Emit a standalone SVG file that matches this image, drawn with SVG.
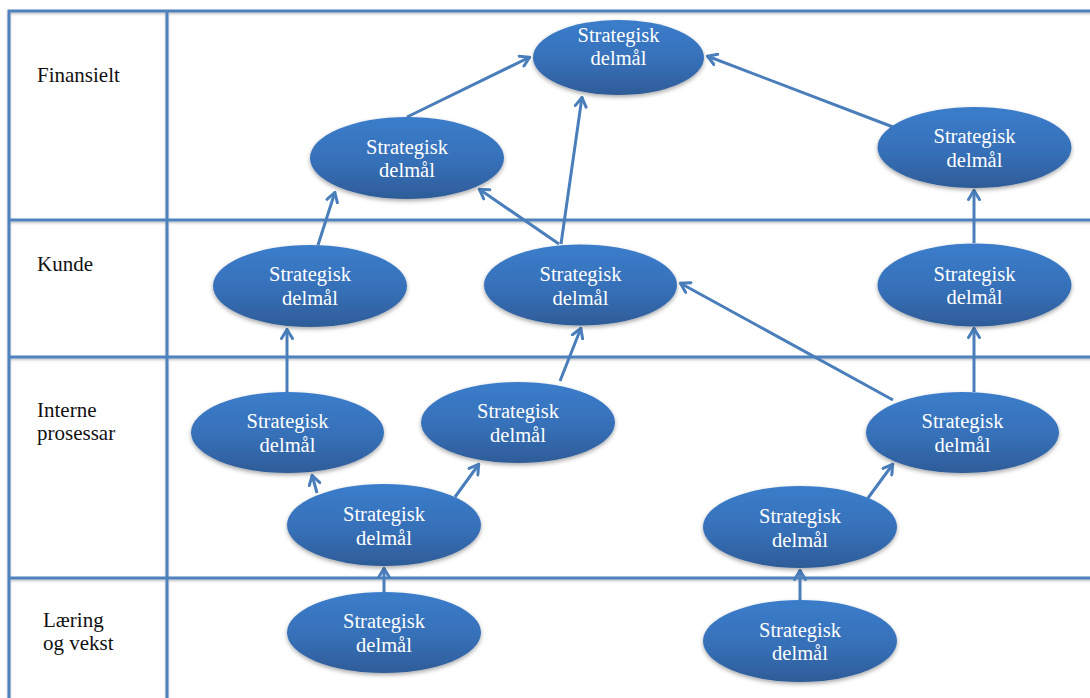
<svg xmlns="http://www.w3.org/2000/svg" width="1090" height="698" viewBox="0 0 1090 698">
<style>
.grid{stroke:#4f81bd;stroke-width:3;fill:none}
.lbl{font-family:'Liberation Serif','Times New Roman',Times,'DejaVu Serif',serif;font-size:21px;fill:#111}
.node ellipse{fill:url(#g);filter:url(#sh)}
.node text{font-family:'Liberation Serif','Times New Roman',Times,'DejaVu Serif',serif;font-size:20.5px;fill:#fff;text-anchor:middle}
.conn line{stroke:#4a7ebb;stroke-width:3;marker-end:url(#ah)}
</style>
<defs>
<linearGradient id="g" x1="0" y1="0" x2="0" y2="1">
<stop offset="0" stop-color="#3b7dcb"/>
<stop offset="0.55" stop-color="#3670b8"/>
<stop offset="1" stop-color="#2e5c98"/>
</linearGradient>
<filter id="sh" x="-10%" y="-10%" width="120%" height="130%">
<feDropShadow dx="0" dy="2" stdDeviation="2" flood-color="#000" flood-opacity="0.35"/>
</filter>
<filter id="lsh" x="-5%" y="-5%" width="110%" height="110%">
<feDropShadow dx="0" dy="1.5" stdDeviation="1" flood-color="#000" flood-opacity="0.25"/>
</filter>
<marker id="ah" viewBox="0 0 12 14" refX="11" refY="7" markerWidth="12" markerHeight="14" markerUnits="userSpaceOnUse" orient="auto">
<path d="M1.5,1.5 L10.5,7 L1.5,12.5" fill="none" stroke="#4a7ebb" stroke-width="3" stroke-linecap="round" stroke-linejoin="miter"/>
</marker>
</defs>
<rect width="1090" height="698" fill="#fff"/>
<g id="table" class="grid" filter="url(#lsh)">
<path d="M9,700 V11 H1092"/>
<line x1="167" y1="11" x2="167" y2="700"/>
<line x1="9" y1="220" x2="1092" y2="220"/>
<line x1="9" y1="357" x2="1092" y2="357"/>
<line x1="9" y1="578" x2="1092" y2="578"/>
</g>
<g id="row-labels" font-family="Liberation Serif, serif">
<text class="lbl" x="37" y="82">Finansielt</text>
<text class="lbl" x="37" y="271">Kunde</text>
<text class="lbl" x="37" y="417">Interne</text>
<text class="lbl" x="37" y="440">prosessar</text>
<text class="lbl" x="43" y="627">Læring</text>
<text class="lbl" x="43" y="650">og vekst</text>
</g>
<g id="connectors" class="conn">
<line x1="407" y1="117" x2="530" y2="57"/>
<line x1="561" y1="244" x2="582" y2="97"/>
<line x1="559" y1="244" x2="479" y2="189"/>
<line x1="318" y1="245" x2="335" y2="192"/>
<line x1="893" y1="127" x2="707" y2="56"/>
<line x1="974" y1="243" x2="974" y2="190"/>
<line x1="974" y1="392" x2="974" y2="328"/>
<line x1="893" y1="400" x2="680" y2="283"/>
<line x1="287" y1="392" x2="287" y2="329"/>
<line x1="317" y1="493" x2="312" y2="475"/>
<line x1="455" y1="497" x2="479" y2="464"/>
<line x1="560" y1="381" x2="581" y2="328"/>
<line x1="384" y1="592" x2="384" y2="568"/>
<line x1="868" y1="498" x2="893" y2="464"/>
<line x1="800" y1="600" x2="800" y2="570"/>
</g>
<g id="n1" class="node"><ellipse cx="618.5" cy="57.5" rx="85.5" ry="37.5"/><text x="618.5" y="42">Strategisk</text><text x="618.5" y="65">delmål</text></g>
<g id="n2" class="node"><ellipse cx="407" cy="158" rx="97" ry="41"/><text x="407" y="154">Strategisk</text><text x="407" y="177">delmål</text></g>
<g id="n3" class="node"><ellipse cx="974.5" cy="147.5" rx="97" ry="40.5"/><text x="974.5" y="143">Strategisk</text><text x="974.5" y="167">delmål</text></g>
<g id="n4" class="node"><ellipse cx="310" cy="286" rx="97" ry="41"/><text x="310" y="281">Strategisk</text><text x="310" y="305">delmål</text></g>
<g id="n5" class="node"><ellipse cx="580.5" cy="285" rx="96.5" ry="40.5"/><text x="580.5" y="280.5">Strategisk</text><text x="580.5" y="304.5">delmål</text></g>
<g id="n6" class="node"><ellipse cx="974.5" cy="285" rx="97" ry="41.5"/><text x="974.5" y="280.5">Strategisk</text><text x="974.5" y="304">delmål</text></g>
<g id="n7" class="node"><ellipse cx="287.5" cy="432.5" rx="96.5" ry="40.5"/><text x="287.5" y="428">Strategisk</text><text x="287.5" y="452">delmål</text></g>
<g id="n8" class="node"><ellipse cx="518" cy="422.5" rx="97" ry="40.5"/><text x="518" y="418">Strategisk</text><text x="518" y="442">delmål</text></g>
<g id="n9" class="node"><ellipse cx="384" cy="525" rx="97" ry="41"/><text x="384" y="520.5">Strategisk</text><text x="384" y="544.5">delmål</text></g>
<g id="n10" class="node"><ellipse cx="962.5" cy="432.5" rx="96.5" ry="40.5"/><text x="962.5" y="428">Strategisk</text><text x="962.5" y="452">delmål</text></g>
<g id="n11" class="node"><ellipse cx="800" cy="527" rx="97" ry="41"/><text x="800" y="523">Strategisk</text><text x="800" y="547">delmål</text></g>
<g id="n12" class="node"><ellipse cx="384" cy="632.5" rx="97" ry="40.5"/><text x="384" y="628">Strategisk</text><text x="384" y="652">delmål</text></g>
<g id="n13" class="node"><ellipse cx="800" cy="641" rx="97" ry="41"/><text x="800" y="637">Strategisk</text><text x="800" y="660">delmål</text></g>
</svg>
